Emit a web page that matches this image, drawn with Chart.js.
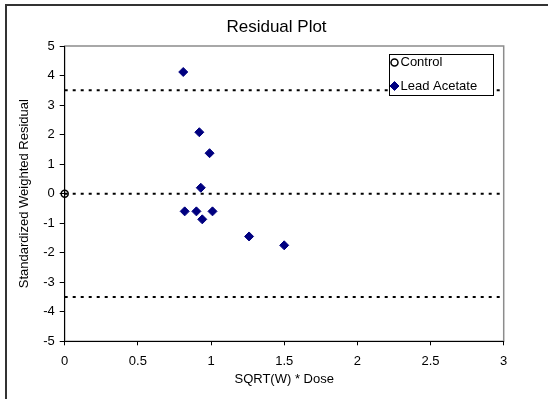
<!DOCTYPE html>
<html>
<head>
<meta charset="utf-8">
<title>Residual Plot</title>
<script src="https://cdn.jsdelivr.net/npm/chart.js@4.4.1/dist/chart.umd.min.js"></script>
<style>
  html, body { margin: 0; padding: 0; background: #fff; }
</style>
</head>
<body>
<canvas id="residual-chart" width="548" height="399"></canvas>
<script>
// Control group: hollow circle at the origin
const controlX = [0];
const controlY = [0];

// Lead Acetate points
const leadX = [0.81, 0.92, 0.99, 0.93, 0.82, 0.9, 0.94, 1.01, 1.26, 1.5];
const leadY = [4.12, 2.08, 1.37, 0.2, -0.6, -0.6, -0.87, -0.6, -1.45, -1.75];

// Dotted reference lines at +3.5, 0 and -3.5
const limitX = [0, 3];
const upperLimit = [3.5, 3.5];
const zeroLine = [0, 0];
const lowerLimit = [-3.5, -3.5];

// Axis ranges
const xRange = [0, 3];
const xStep = 0.5;
const yRange = [-5, 5];
const yStep = 1;

const FONT = "'Liberation Sans', Arial, sans-serif";
Chart.defaults.font.family = FONT;
Chart.defaults.color = "#000";

// Zip two arrays into {x, y} points
function toPoints(xs, ys) {
  return xs.map((x, i) => ({ x: x, y: ys[i] }));
}

function refLine(values) {
  return {
    data: toPoints(limitX, values),
    showLine: true,
    fill: false,
    borderColor: "#000",
    borderWidth: 2,
    borderDash: [3, 5],
    pointRadius: 0,
  };
}

// Draw the outer chart frame and the grey plot-area border
const frame = {
  id: "frame",
  beforeDraw(chart) {
    const { ctx, chartArea, width, height } = chart;
    ctx.save();
    ctx.fillStyle = "#fff";
    ctx.fillRect(0, 0, width, height);
    ctx.strokeStyle = "#333";
    ctx.lineWidth = 2;
    ctx.beginPath();
    ctx.moveTo(6, height);
    ctx.lineTo(6, 5);
    ctx.lineTo(width, 5);
    ctx.stroke();
    ctx.strokeStyle = "#8c8c8c";
    ctx.lineWidth = 1.5;
    ctx.strokeRect(chartArea.left, chartArea.top, chartArea.right - chartArea.left, chartArea.bottom - chartArea.top);
    ctx.restore();
  },
};

// Boxed legend inside the top right of the plot area
const boxLegend = {
  id: "boxLegend",
  afterDraw(chart) {
    const { ctx, chartArea } = chart;
    const items = chart.data.datasets.filter((d) => d.label);
    const w = 104;
    const h = 41;
    const left = Math.round(chartArea.right - 10.7 - w);
    const top = Math.round(chartArea.top + 8.3);
    ctx.save();
    ctx.fillStyle = "#fff";
    ctx.fillRect(left, top, w, h);
    ctx.strokeStyle = "#000";
    ctx.lineWidth = 1;
    ctx.strokeRect(left + 0.5, top + 0.5, w, h);
    ctx.font = "13px " + FONT;
    ctx.textBaseline = "middle";
    items.forEach((d, i) => {
      const y = top + 8.5 + i * 23.5;
      const x = left + 5.5;
      const r = d.pointRadius;
      ctx.beginPath();
      if (d.pointStyle === "rectRot") {
        ctx.moveTo(x - r, y);
        ctx.lineTo(x, y - r);
        ctx.lineTo(x + r, y);
        ctx.lineTo(x, y + r);
        ctx.closePath();
      } else {
        ctx.arc(x, y, r, 0, Math.PI * 2);
      }
      ctx.fillStyle = d.backgroundColor;
      ctx.fill();
      ctx.strokeStyle = d.borderColor;
      ctx.lineWidth = d.borderWidth;
      ctx.stroke();
      ctx.fillStyle = "#000";
      ctx.fillText(d.label, left + 11.5, y);
    });
    ctx.restore();
  },
};

const ctx = document.getElementById("residual-chart").getContext("2d");
new Chart(ctx, {
  type: "scatter",
  data: {
    datasets: [
      {
        label: "Control",
        data: toPoints(controlX, controlY),
        pointStyle: "circle",
        pointRadius: 3.5,
        backgroundColor: "rgba(0,0,0,0)",
        borderColor: "#000",
        borderWidth: 1.5,
        clip: false,
      },
      {
        label: "Lead Acetate",
        data: toPoints(leadX, leadY),
        pointStyle: "rectRot",
        pointRadius: 4.5,
        backgroundColor: "#000080",
        borderColor: "#000080",
        borderWidth: 1,
      },
      refLine(upperLimit),
      refLine(zeroLine),
      refLine(lowerLimit),
    ],
  },
  options: {
    responsive: false,
    animation: false,
    layout: { padding: { left: 5, right: 0, top: 0, bottom: 0 } },
    plugins: {
      legend: { display: false },
      tooltip: { enabled: false },
      title: {
        display: true,
        text: "Residual Plot",
        color: "#000",
        font: { size: 17, weight: "normal", lineHeight: 1.2 },
        padding: { top: 17, bottom: 8.6 },
      },
    },
    scales: {
      x: {
        type: "linear",
        position: "bottom",
        min: xRange[0],
        max: xRange[1],
        ticks: {
          stepSize: xStep,
          color: "#000",
          font: { size: 13 },
          padding: 8,
          maxRotation: 0,
          callback: (value) => String(value),
        },
        grid: { drawOnChartArea: false, drawTicks: true, tickLength: 4, color: "#000" },
        border: { color: "#000", width: 1 },
        title: {
          display: true,
          text: "SQRT(W) * Dose",
          color: "#000",
          font: { size: 13 },
          padding: { top: 3, bottom: 12.2 },
        },
        afterFit(scale) {
          scale.height = 57.7;
        },
      },
      y: {
        type: "linear",
        position: "left",
        min: yRange[0],
        max: yRange[1],
        ticks: { stepSize: yStep, color: "#000", font: { size: 13 }, padding: 5 },
        grid: { drawOnChartArea: false, drawTicks: true, tickLength: 5, color: "#000" },
        border: { color: "#000", width: 1 },
        title: {
          display: true,
          text: "Standardized Weighted Residual",
          color: "#000",
          font: { size: 13 },
          padding: { top: 11.2, bottom: 11.3 },
        },
        afterFit(scale) {
          scale.width = 59.7;
        },
      },
      // empty right-hand axis that keeps the space right of the plot
      yRight: {
        type: "linear",
        position: "right",
        display: true,
        grid: { display: false },
        ticks: { display: false },
        border: { display: false },
        afterFit(scale) {
          scale.width = 44.3;
        },
      },
    },
  },
  plugins: [frame, boxLegend],
});
</script>
</body>
</html>
